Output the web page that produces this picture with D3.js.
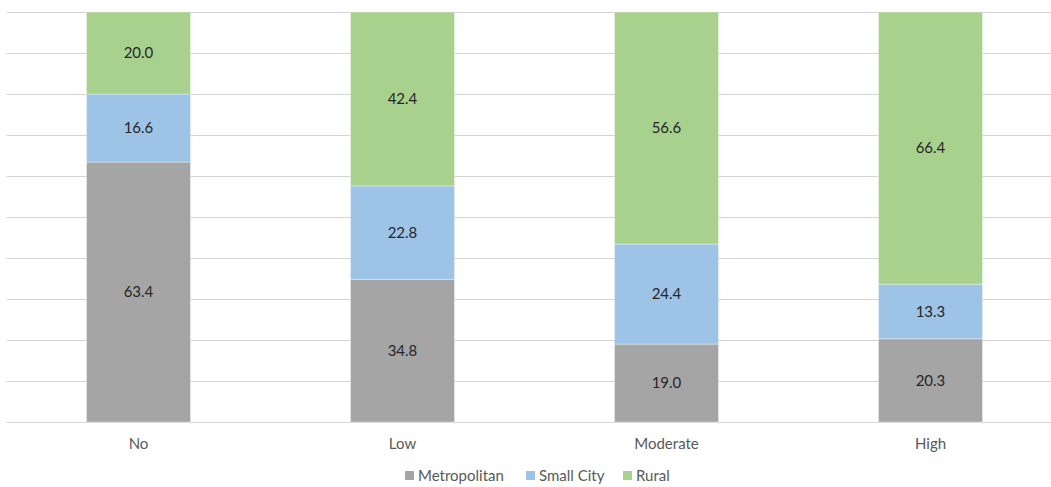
<!DOCTYPE html>
<html>
<head>
<meta charset="utf-8">
<script src="https://cdn.jsdelivr.net/npm/d3@7"></script>
<style>
  html, body { margin: 0; padding: 0; background: #fff; }
  svg { display: block; font-family: "Lato", "Liberation Sans", sans-serif; }
</style>
</head>
<body>
<svg id="chart" width="1051" height="487"></svg>
<script>
// Share of each area type within each level (percent)
const categories = ["No", "Low", "Moderate", "High"];
const seriesNames = ["Metropolitan", "Small City", "Rural"];
const metropolitan = [63.4, 34.8, 19.0, 20.3];
const smallCity = [16.6, 22.8, 24.4, 13.3];
const rural = [20.0, 42.4, 56.6, 66.4];
const gridTicks = [0, 10, 20, 30, 40, 50, 60, 70, 80, 90, 100];

const colors = ["#A5A5A5", "#9DC3E6", "#A9D18E"];

const rows = categories.map((c, i) => ({
  category: c,
  "Metropolitan": metropolitan[i],
  "Small City": smallCity[i],
  "Rural": rural[i]
}));

const svg = d3.select("#chart");

const x = d3.scaleBand()
  .domain(categories)
  .range([6.5, 1062.5])
  .paddingInner(0.606)
  .paddingOuter(0.303);

const y = d3.scaleLinear().domain([0, 100]).range([422, 12]);

// horizontal gridlines
svg.append("g")
  .selectAll("line")
  .data(gridTicks)
  .join("line")
  .attr("x1", 6.5)
  .attr("x2", 1051)
  .attr("y1", d => Math.round(y(d)) + 0.5)
  .attr("y2", d => Math.round(y(d)) + 0.5)
  .attr("stroke", "#D4D4D4")
  .attr("stroke-width", 1);

const stack = d3.stack().keys(seriesNames);
const layers = stack(rows);

const layerG = svg.append("g")
  .selectAll("g")
  .data(layers)
  .join("g")
  .attr("fill", (d, i) => colors[i]);

layerG.selectAll("rect")
  .data(d => d)
  .join("rect")
  .attr("x", d => x(d.data.category))
  .attr("width", x.bandwidth())
  .attr("y", d => y(d[1]))
  .attr("height", d => y(d[0]) - y(d[1]))
  .attr("stroke", "rgba(255,255,255,0.35)")
  .attr("stroke-width", 1);

// value labels in the middle of each segment
layerG.selectAll("text")
  .data(d => d.map(v => ({ v, key: d.key })))
  .join("text")
  .attr("x", d => x(d.v.data.category) + x.bandwidth() / 2)
  .attr("y", d => (y(d.v[0]) + y(d.v[1])) / 2)
  .attr("dy", "0.35em")
  .attr("text-anchor", "middle")
  .attr("font-size", 15)
  .attr("fill", "#262626")
  .text(d => d.v.data[d.key].toFixed(1));

// category axis
const xAxis = svg.append("g")
  .attr("transform", "translate(0,422)")
  .call(d3.axisBottom(x).tickSize(0).tickPadding(16));
xAxis.select(".domain").remove();
xAxis.selectAll("text")
  .attr("font-family", "Lato, 'Liberation Sans', sans-serif")
  .attr("font-size", 15)
  .attr("fill", "#595959");

// legend
const legendItems = [
  { name: seriesNames[0], color: colors[0], x: 405 },
  { name: seriesNames[1], color: colors[1], x: 526 },
  { name: seriesNames[2], color: colors[2], x: 623 }
];
const legend = svg.append("g");
const li = legend.selectAll("g")
  .data(legendItems)
  .join("g")
  .attr("transform", d => `translate(${d.x},0)`);
li.append("rect")
  .attr("x", 0).attr("y", 471)
  .attr("width", 9).attr("height", 9)
  .attr("fill", d => d.color);
li.append("text")
  .attr("x", 13).attr("y", 476)
  .attr("dy", "0.35em")
  .attr("font-size", 15)
  .attr("fill", "#595959")
  .text(d => d.name);
</script>
</body>
</html>
